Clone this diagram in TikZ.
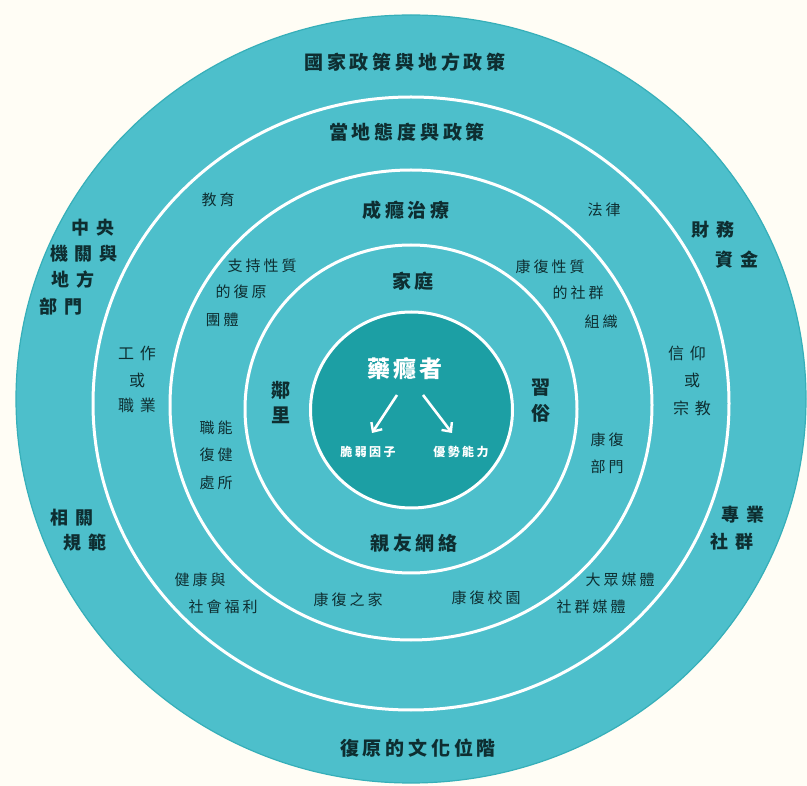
\documentclass[tikz,border=0pt]{standalone}
\usepackage{fontspec}
\usetikzlibrary{arrows.meta}
\newfontfamily\cjkbig[LetterSpace=20]{Noto Sans CJK TC}
\newfontfamily\cjkwide[LetterSpace=35]{Noto Sans CJK TC}
\newfontfamily\cjksmall[LetterSpace=20]{Noto Sans CJK TC}
\newfontfamily\cjkcore[LetterSpace=13]{Noto Sans CJK TC}
\definecolor{bgcream}{HTML}{FFFDF5}
\definecolor{ringteal}{HTML}{4DBFCB}
\definecolor{ringedge}{HTML}{36AFB9}
\definecolor{coreteal}{HTML}{1C9FA4}
\definecolor{inkdark}{HTML}{0E2E31}
\tikzset{
  whiteline/.style={draw=white, line width=3pt},
  lbl/.style={inner sep=0pt, text=inkdark},
  bigtxt/.style={lbl, font=\cjkbig\bfseries\fontsize{19}{19}\selectfont},
  widetxt/.style={lbl, font=\cjkwide\bfseries\fontsize{18}{18}\selectfont},
  widesm/.style={lbl, font=\cjkwide\fontsize{16}{16}\selectfont},
  smtxt/.style={lbl, font=\cjksmall\fontsize{15}{15}\selectfont},
  coretxt/.style={inner sep=0pt, text=white, font=\cjkcore\bfseries\fontsize{23}{23}\selectfont},
  tinytxt/.style={inner sep=0pt, text=white, font=\cjksmall\bfseries\fontsize{12}{12}\selectfont},
  whitearrow/.style={draw=white, line width=2.6pt, -{Straight Barb[length=7pt,width=13pt,line width=2.4pt]}}
}
\begin{document}
\begin{tikzpicture}[x=1pt,y=-1pt]
\useasboundingbox (0,0) rectangle (807,786);
\fill[bgcream] (0,0) rectangle (807,786);
% rings
\fill[ringteal, draw=ringedge, line width=1.2pt] (411,399) ellipse [x radius=395, y radius=384];
\draw[whiteline] (411,403.5) ellipse [x radius=318, y radius=306.5];
\draw[whiteline] (411,405) ellipse [x radius=241, y radius=235];
\draw[whiteline] (411,409) ellipse [x radius=166, y radius=164];
\filldraw[fill=coreteal, whiteline] (411.5,410) ellipse [x radius=101, y radius=98];

% outer ring titles
\node[bigtxt] (natpol) at (405,62) {國家政策與地方政策};
\node[bigtxt] (locpol) at (407,132) {當地態度與政策};
\node[bigtxt] (treat) at (406,210) {成癮治療};
\node[bigtxt] (family) at (413,281) {家庭};
\node[bigtxt] (friends) at (414,543) {親友網絡};
\node[bigtxt] (culture) at (418,748) {復原的文化位階};
\node[bigtxt] (nb1) at (281,390) {鄰};
\node[bigtxt] (nb2) at (281,415) {里};
\node[bigtxt] (cu1) at (541,388) {習};
\node[bigtxt] (cu2) at (541,413) {俗};

% core
\node[coretxt] (addict) at (405,369) {藥癮者};
\node[tinytxt] (risk) at (368,452) {脆弱因子};
\node[tinytxt] (strength) at (461,452) {優勢能力};
\coordinate (arL0) at (397,395);
\coordinate (arL1) at (372,433);
\coordinate (arR0) at (423,395);
\coordinate (arR1) at (452,433);
\draw[whitearrow] (arL0) -- (arL1);
\draw[whitearrow] (arR0) -- (arR1);

% outermost ring side labels
\node[widetxt] (cg1) at (93,228) {中央};
\node[widetxt] (cg2) at (84,254) {機關與};
\node[widetxt] (cg3) at (73,280) {地方};
\node[widetxt] (cg4) at (61,307) {部門};
\node[widetxt] (fin1) at (713,230) {財務};
\node[widetxt] (fin2) at (737,260) {資金};
\node[widetxt] (reg1) at (72,518) {相關};
\node[widetxt] (reg2) at (85,543) {規範};
\node[widetxt] (pro1) at (743,515) {專業};
\node[widetxt] (pro2) at (732,542) {社群};

% second ring labels
\node[widesm] (job1) at (137,353) {工作};
\node[widesm] (job2) at (137,380) {或};
\node[widesm] (job3) at (137,405) {職業};
\node[widesm] (rel1) at (687,353) {信仰};
\node[widesm] (rel2) at (692,380) {或};
\node[widesm] (rel3) at (692,408) {宗教};
\node[smtxt] (edu) at (218,200) {教育};
\node[smtxt] (law) at (604,210) {法律};
\node[smtxt] (hw1) at (200,580) {健康與};
\node[smtxt] (hw2) at (223,607) {社會福利};
\node[smtxt] (md1) at (620,580) {大眾媒體};
\node[smtxt] (md2) at (591,607) {社群媒體};

% third ring labels
\node[smtxt] (sg1) at (262,266) {支持性質};
\node[smtxt] (sg2) at (241,292) {的復原};
\node[smtxt] (sg3) at (222,320) {團體};
\node[smtxt] (co1) at (550,267) {康復性質};
\node[smtxt] (co2) at (578,293) {的社群};
\node[smtxt] (co3) at (601,322) {組織};
\node[smtxt] (vr1) at (216,428) {職能};
\node[smtxt] (vr2) at (216,455) {復健};
\node[smtxt] (vr3) at (216,483) {處所};
\node[smtxt] (rd1) at (607,440) {康復};
\node[smtxt] (rd2) at (607,467) {部門};
\node[smtxt] (home) at (348,600) {康復之家};
\node[smtxt] (campus) at (486,598) {康復校園};
\end{tikzpicture}
\end{document}
